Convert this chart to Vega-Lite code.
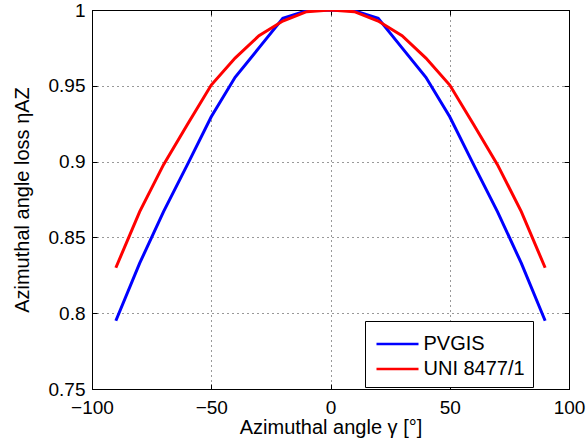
{
  "$schema": "https://vega.github.io/schema/vega-lite/v6.json",
  "width": 477,
  "height": 379,
  "autosize": {"type": "none"},
  "padding": {"left": 92, "top": 10, "right": 17, "bottom": 58},
  "config": {
    "font": "Liberation Sans",
    "view": {"stroke": "#000", "strokeWidth": 1},
    "axis": {
      "domainColor": "#000",
      "tickColor": "#000",
      "tickSize": -5,
      "labelColor": "#000",
      "titleColor": "#000",
      "labelFontSize": 19,
      "titleFontSize": 20,
      "titleFontWeight": "normal",
      "gridColor": "#333",
      "gridDash": [1, 4],
      "gridWidth": 1
    }
  },
  "data": {
    "values": [
      {"angle": -90, "eta": 0.795, "series": "PVGIS"},
      {"angle": -80, "eta": 0.833, "series": "PVGIS"},
      {"angle": -70, "eta": 0.867, "series": "PVGIS"},
      {"angle": -60, "eta": 0.898, "series": "PVGIS"},
      {"angle": -50, "eta": 0.9296, "series": "PVGIS"},
      {"angle": -40, "eta": 0.9556, "series": "PVGIS"},
      {"angle": -30, "eta": 0.975, "series": "PVGIS"},
      {"angle": -20, "eta": 0.9945, "series": "PVGIS"},
      {"angle": -10, "eta": 0.9995, "series": "PVGIS"},
      {"angle": 0, "eta": 1.0, "series": "PVGIS"},
      {"angle": 10, "eta": 0.9995, "series": "PVGIS"},
      {"angle": 20, "eta": 0.9945, "series": "PVGIS"},
      {"angle": 30, "eta": 0.975, "series": "PVGIS"},
      {"angle": 40, "eta": 0.9556, "series": "PVGIS"},
      {"angle": 50, "eta": 0.9296, "series": "PVGIS"},
      {"angle": 60, "eta": 0.898, "series": "PVGIS"},
      {"angle": 70, "eta": 0.867, "series": "PVGIS"},
      {"angle": 80, "eta": 0.833, "series": "PVGIS"},
      {"angle": 90, "eta": 0.795, "series": "PVGIS"},
      {"angle": -90, "eta": 0.83, "series": "UNI 8477/1"},
      {"angle": -80, "eta": 0.867, "series": "UNI 8477/1"},
      {"angle": -70, "eta": 0.898, "series": "UNI 8477/1"},
      {"angle": -60, "eta": 0.9245, "series": "UNI 8477/1"},
      {"angle": -50, "eta": 0.9505, "series": "UNI 8477/1"},
      {"angle": -40, "eta": 0.9683, "series": "UNI 8477/1"},
      {"angle": -30, "eta": 0.983, "series": "UNI 8477/1"},
      {"angle": -20, "eta": 0.9927, "series": "UNI 8477/1"},
      {"angle": -10, "eta": 0.9989, "series": "UNI 8477/1"},
      {"angle": 0, "eta": 1.0, "series": "UNI 8477/1"},
      {"angle": 10, "eta": 0.9989, "series": "UNI 8477/1"},
      {"angle": 20, "eta": 0.9927, "series": "UNI 8477/1"},
      {"angle": 30, "eta": 0.983, "series": "UNI 8477/1"},
      {"angle": 40, "eta": 0.9683, "series": "UNI 8477/1"},
      {"angle": 50, "eta": 0.9505, "series": "UNI 8477/1"},
      {"angle": 60, "eta": 0.9245, "series": "UNI 8477/1"},
      {"angle": 70, "eta": 0.898, "series": "UNI 8477/1"},
      {"angle": 80, "eta": 0.867, "series": "UNI 8477/1"},
      {"angle": 90, "eta": 0.83, "series": "UNI 8477/1"}
    ]
  },
  "layer": [
    {
      "mark": {"type": "line", "strokeWidth": 3, "clip": true},
      "encoding": {
        "x": {
          "field": "angle",
          "type": "quantitative",
          "scale": {"domain": [-100, 100], "nice": false},
          "axis": {
            "orient": "bottom",
            "values": [-100, -50, 0, 50, 100],
            "title": "Azimuthal angle γ [°]",
            "labelPadding": 14,
            "titlePadding": 0,
            "grid": true,
            "labelFlush": false
          }
        },
        "y": {
          "field": "eta",
          "type": "quantitative",
          "scale": {"domain": [0.75, 1], "nice": false, "zero": false},
          "axis": {
            "orient": "left",
            "values": [0.75, 0.8, 0.85, 0.9, 0.95, 1],
            "format": ".2~f",
            "title": "Azimuthal angle loss ηAZ",
            "labelPadding": 12,
            "titlePadding": 16,
            "grid": true
          }
        },
        "color": {
          "field": "series",
          "type": "nominal",
          "scale": {"domain": ["PVGIS", "UNI 8477/1"], "range": ["#0000ff", "#ff0000"]},
          "legend": {
            "orient": "none",
            "legendX": 273,
            "legendY": 311,
            "title": null,
            "direction": "vertical",
            "strokeColor": "#000",
            "fillColor": "#fff",
            "padding": 8,
            "symbolType": "M-1.556,0H1.556",
            "symbolStrokeWidth": 2.5,
            "symbolSize": 729,
            "symbolOffset": 9.5,
            "labelFontSize": 20,
            "labelColor": "#000",
            "labelOffset": 11,
            "rowPadding": 0
          }
        }
      }
    },
    {
      "mark": {"type": "point", "opacity": 0},
      "encoding": {
        "x": {
          "field": "angle",
          "type": "quantitative",
          "scale": {"domain": [-100, 100], "nice": false},
          "axis": {"orient": "top", "values": [-100, -50, 0, 50, 100], "labels": false, "title": null, "grid": false}
        },
        "y": {
          "field": "eta",
          "type": "quantitative",
          "scale": {"domain": [0.75, 1], "nice": false, "zero": false},
          "axis": {"orient": "right", "values": [0.75, 0.8, 0.85, 0.9, 0.95, 1], "labels": false, "title": null, "grid": false}
        }
      }
    }
  ],
  "resolve": {"axis": {"x": "independent", "y": "independent"}}
}
